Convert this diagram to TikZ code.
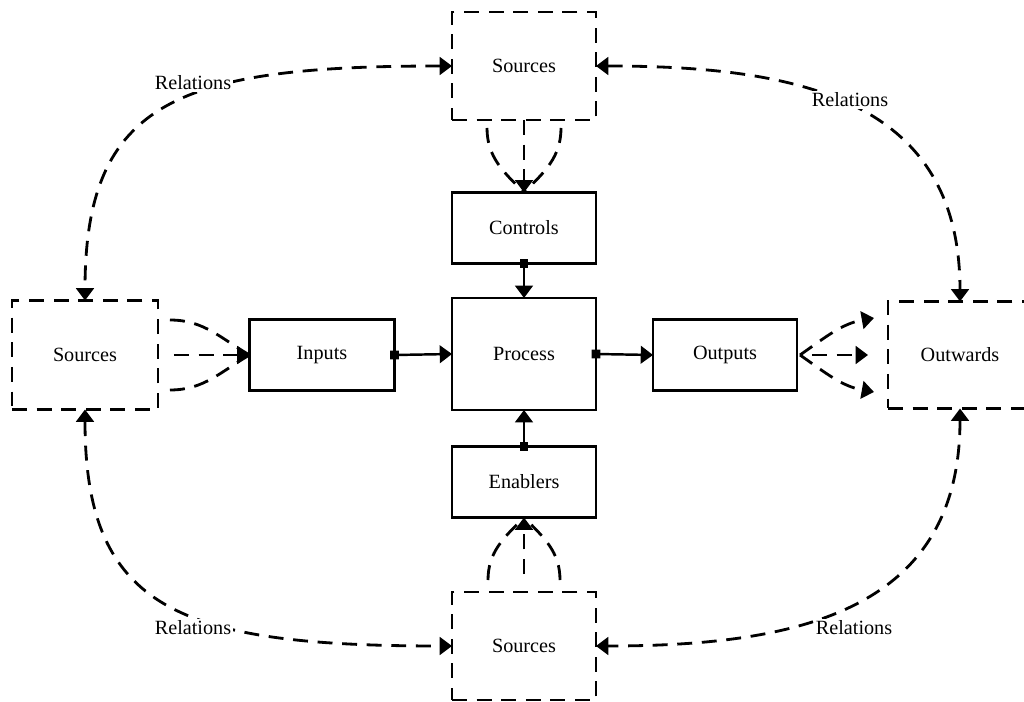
\documentclass[tikz,border=0pt]{standalone}
\usepackage{fontspec}
\setmainfont{Liberation Serif}
\usetikzlibrary{arrows.meta,calc}

\tikzset{
  box/.style={draw, line width=1.4pt, inner sep=0pt, outer sep=0pt,
              minimum width=2.88cm, font=\fontsize{11.5}{14}\selectfont},
  dbox/.style={box, line width=1.5pt, dash pattern=on 8.5pt off 5.5pt},
  tri/.tip={Triangle[length=7pt,width=10pt]},
  flow/.style={line width=1.4pt, {Square[length=5pt,width=5pt]}-tri, shorten <=-2.5pt},
  dflow/.style={line width=1.6pt, dash pattern=on 8.5pt off 5.5pt},
  rel/.style={dflow, tri-tri},
  rlabel/.style={fill=white, inner sep=1pt, font=\fontsize{11.5}{14}\selectfont}
}

\begin{document}
\begin{tikzpicture}[x=0.02cm, y=0.02cm]
  \useasboundingbox (0,0) rectangle (1024,-702);

  % central column
  \node[dbox, minimum height=2.16cm] (ts)   at (524,-66)  {Sources};
  \node[box,  minimum height=1.42cm] (ctrl) at (524,-228) {Controls};
  \node[box,  minimum height=2.24cm] (proc) at (524,-354) {Process};
  \node[box,  minimum height=1.42cm] (enab) at (524,-482) {Enablers};
  \node[dbox, minimum height=2.16cm] (bs)   at (524,-646) {Sources};

  % middle row
  \node[dbox, minimum width=2.92cm, minimum height=2.18cm] (ls) at (85,-355)  {Sources};
  \node[box,  minimum width=2.9cm,  minimum height=1.42cm] (inp) at (322,-355) {Inputs};
  \node[box,  minimum height=1.42cm] (outp) at (725,-355) {Outputs};
  \node[dbox, minimum height=2.14cm] (ow)  at (960,-355) {Outwards};

  % solid flows into and out of the process
  \draw[flow] (inp.east)  -- (proc.west);
  \draw[flow] (proc.east) -- (outp.west);
  \draw[flow] (ctrl.south) -- (proc.north);
  \draw[flow] (enab.north) -- (proc.south);

  % top sources feeding the controls
  \draw[dflow, -tri] (ts.south) -- (ctrl.north);
  \draw[dflow] ($(ts.south)+(-37,-8)$) to[out=-90, in=135] (ctrl.north);
  \draw[dflow] ($(ts.south)+(37,-8)$)  to[out=-90, in=45]  (ctrl.north);

  % left sources feeding the inputs
  \draw[dflow, -tri] ($(ls.east)+(16,0)$) -- (inp.west);
  \draw[dflow] ($(ls.east)+(12,35)$)  to[out=0, in=150]  (inp.west);
  \draw[dflow] ($(ls.east)+(12,-35)$) to[out=0, in=-150] (inp.west);

  % bottom sources feeding the enablers
  \draw[dflow, -tri] ($(bs.north)+(0,18)$) -- (enab.south);
  \draw[dflow] ($(bs.north)+(-36,12)$) to[out=90, in=-135] (enab.south);
  \draw[dflow] ($(bs.north)+(36,12)$)  to[out=90, in=-45]  (enab.south);

  % outputs spreading outwards
  \coordinate (o1) at ($(ow.west)+(-14,37)$);
  \coordinate (o2) at ($(ow.west)+(-20,0)$);
  \coordinate (o3) at ($(ow.west)+(-14,-37)$);
  \draw[dflow, -tri] ($(outp.east)+(15,0)$) -- (o2);
  \draw[dflow, -tri] ($(outp.east)+(3,0)$) to[out=35, in=190]  (o1);
  \draw[dflow, -tri] ($(outp.east)+(3,0)$) to[out=-35, in=170] (o3);

  % relations between the outer boxes
  \draw[rel] (ts.west) .. controls (180,-66) and (85,-100) .. (ls.north);
  \draw[rel] (ts.east) .. controls (800,-66) and (960,-100) .. (ow.north);
  \draw[rel] (ls.south) .. controls (85,-610) and (180,-646) .. (bs.west);
  \draw[rel] (ow.south) .. controls (960,-610) and (800,-646) .. (bs.east);

  \node[rlabel] (r1) at (193,-83)  {Relations};
  \node[rlabel] (r2) at (850,-100) {Relations};
  \node[rlabel] (r3) at (193,-628) {Relations};
  \node[rlabel] (r4) at (854,-628) {Relations};
\end{tikzpicture}
\end{document}
